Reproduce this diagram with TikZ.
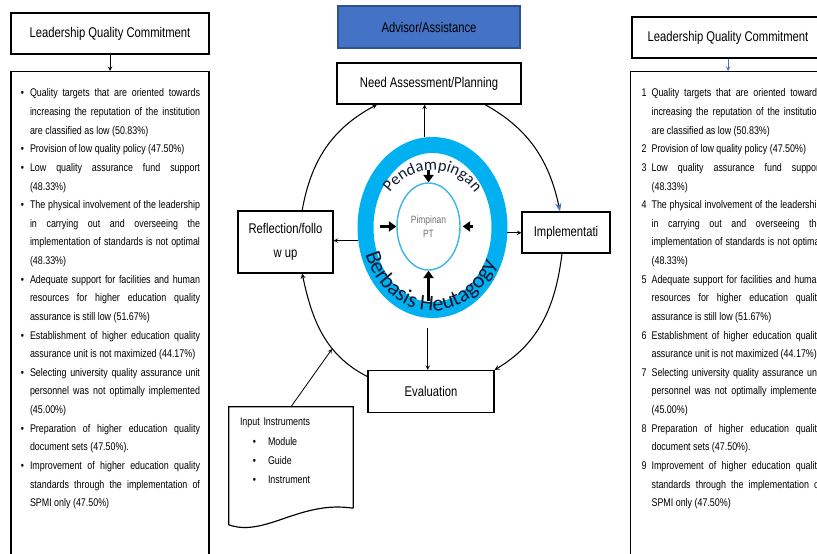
\documentclass[tikz,border=0pt]{standalone}
\usepackage{fontspec}
\setmainfont{Liberation Sans}[FakeStretch=0.8]
\newfontfamily\ringfont{Carlito}
\usepackage{enumitem}
\usepackage{xcolor}
\usetikzlibrary{shapes,arrows,arrows.meta,positioning,decorations.text}

\definecolor{advblue}{HTML}{4472C4}
\definecolor{advborder}{HTML}{2F528F}
\definecolor{ringblue}{HTML}{00B0F0}
\definecolor{leadblue}{HTML}{3DB5E6}
\definecolor{ringtext}{HTML}{101A33}
\definecolor{leadgray}{HTML}{707070}

\newcommand{\commitmentitems}{%
\item Quality targets that are oriented towards\linebreak increasing the reputation of the institution\linebreak are classified as low (50.83\%)
\item Provision of low quality policy (47.50\%)
\item Low quality assurance fund support\linebreak (48.33\%)
\item The physical involvement of the leadership\linebreak in carrying out and overseeing the\linebreak implementation of standards is not optimal\linebreak (48.33\%)
\item Adequate support for facilities and human\linebreak resources for higher education quality\linebreak assurance is still low (51.67\%)
\item Establishment of higher education quality\linebreak assurance unit is not maximized (44.17\%)
\item Selecting university quality assurance unit\linebreak personnel was not optimally implemented\linebreak (45.00\%)
\item Preparation of higher education quality\linebreak document sets (47.50\%).
\item Improvement of higher education quality\linebreak standards through the implementation of\linebreak SPMI only (47.50\%)
}

\begin{document}
\begin{tikzpicture}[
    box/.style={rectangle, draw, line width=1pt, align=center, inner sep=2pt, font=\fontsize{12}{21}\selectfont},
    listbox/.style={rectangle, draw, line width=1pt, anchor=north, text width=5.4cm, align=justify, inner xsep=0.27cm, inner ysep=0.2cm, font=\fontsize{9.5}{15.9}\selectfont},
    arrow/.style={->, >=stealth, line width=0.7pt},
    loopline/.style={->, >=stealth, line width=0.9pt},
    pusharrow/.style={-{Triangle[length=0.22cm, width=0.3cm]}, line width=2pt}
]
\useasboundingbox (0,0) rectangle (24.51,16.59);
\clip (0,0) rectangle (24.51,16.59);

% Left commitment column
\node[box, minimum width=5.94cm, minimum height=1.23cm] (ltitle) at (3.3,15.585) {Leadership Quality Commitment};
\node[listbox] (llist) at (3.3,14.46) {
    \begin{itemize}[leftmargin=0.3cm, labelsep=0.18cm, label=\textbullet, topsep=0pt, partopsep=0pt, itemsep=0pt, parsep=0pt]
    \commitmentitems
    \end{itemize}
    \par\nointerlineskip\rule{0pt}{2.5cm}
};
\draw[arrow] (ltitle.south) -- (llist.north);

% Right commitment column
\node[box, minimum width=5.76cm, minimum height=1.23cm] (rtitle) at (21.84,15.465) {Leadership Quality Commitment};
\node[listbox, anchor=north west, inner xsep=0.33cm] (rlist) at (18.9,14.46) {
    \begin{enumerate}[leftmargin=0.3cm, labelsep=0.15cm, label=\arabic*, topsep=0pt, partopsep=0pt, itemsep=0pt, parsep=0pt]
    \commitmentitems
    \end{enumerate}
    \par\nointerlineskip\rule{0pt}{2.5cm}
};
\draw[arrow, advblue] (rtitle.south) -- (rtitle.south |- rlist.north);

% Cycle boxes
\node[box, fill=advblue, draw=advborder, minimum width=5.46cm, minimum height=1.26cm] (advisor) at (12.87,15.78) {Advisor/Assistance};
\node[box, minimum width=5.52cm, minimum height=1.23cm] (need) at (12.87,14.085) {Need Assessment/Planning};
\node[box, minimum width=2.85cm, minimum height=1.86cm] (reflect) at (8.565,9.33) {Reflection/follo\\w up};
\node[box, minimum width=2.64cm, minimum height=1.23cm] (impl) at (16.98,9.615) {Implementati};
\node[box, minimum width=3.78cm, minimum height=1.26cm] (eval) at (12.93,4.845) {Evaluation};

% Mentoring ring
\node[ellipse, draw=ringblue, line width=0.48cm, minimum width=4.02cm, minimum height=4.95cm] (ring) at (12.975,9.765) {};
\node[ellipse, draw=leadblue, line width=1.2pt, minimum width=1.89cm, minimum height=2.61cm, inner sep=0pt, text=leadgray, align=center, font=\fontsize{9}{12}\selectfont] (lead) at (12.855,9.795) {Pimpinan\\PT};

\path[decorate, decoration={text along path, text align=center, text color=ringtext,
    text={|\ringfont\fontsize{14}{14}\selectfont|Pendampingan}}, shift={(ring.center)}]
    (158:1.6 and 1.72) arc[start angle=158, end angle=22, x radius=1.6cm, y radius=1.72cm];
\path[decorate, decoration={text along path, text align=center, text color=ringtext,
    text={|\ringfont\fontsize{19}{19}\selectfont|Berbasis Heutagogy}}, shift={(ring.center)}]
    (188:2.12 and 2.5) arc[start angle=188, end angle=345, x radius=2.12cm, y radius=2.5cm];

% Arrows into the leader
\draw[pusharrow] ([yshift=0.36cm]lead.north) -- (lead.north);
\draw[pusharrow] ([yshift=-0.9cm]lead.south) -- (lead.south);
\draw[pusharrow] ([xshift=-0.5cm]lead.west) -- (lead.west);
\draw[pusharrow] ([xshift=0.36cm]lead.east) -- ([xshift=0.06cm]lead.east);

% Arrows out of the ring
\draw[arrow] (ring.95) -- (ring.95 |- need.south);
\draw[arrow, shorten <=0.3cm] (ring.267) -- (ring.267 |- eval.north);
\draw[arrow] (ring.190) -- (ring.190 -| reflect.east);
\draw[arrow] (ring.356) -- (ring.356 -| impl.west);

% Cycle
\draw[loopline] ([xshift=0.5cm]reflect.north) to[out=80,in=208] ([xshift=-1.56cm]need.south);
\draw[loopline, -{Stealth[color=advblue]}] ([xshift=1.68cm]need.south) to[out=-29,in=102] ([xshift=-0.18cm]impl.north);
\draw[loopline] ([xshift=-0.12cm]impl.south) to[out=-97,in=31] (eval.north east);
\draw[loopline] ([yshift=-0.2cm]eval.north west) to[out=153,in=-78] ([xshift=0.5cm]reflect.south);

% Input instruments
\node[rectangle, minimum width=3.72cm, minimum height=3.03cm, text width=3.06cm, inner xsep=0.33cm, align=left, font=\fontsize{9.5}{16.4}\selectfont] (input) at (8.73,2.865) {Input Instruments
    \begin{itemize}[leftmargin=0.84cm, labelsep=0.36cm, label=\textbullet, topsep=0pt, partopsep=0pt, itemsep=0pt, parsep=0pt]
    \item Module
    \item Guide
    \item Instrument
    \end{itemize}
    \par\nointerlineskip\rule{0pt}{0.4cm}
};
\draw[line width=1pt] (input.south east) -- (input.north east) -- (input.north west) -- ++(0,-3.54)
    .. controls +(1.08,-0.39) and +(-1.59,0.25) .. (input.south east);
\coordinate (cyclein) at (9.96,6.12);
\draw[arrow] (input.north) -- (cyclein);

\end{tikzpicture}
\end{document}
